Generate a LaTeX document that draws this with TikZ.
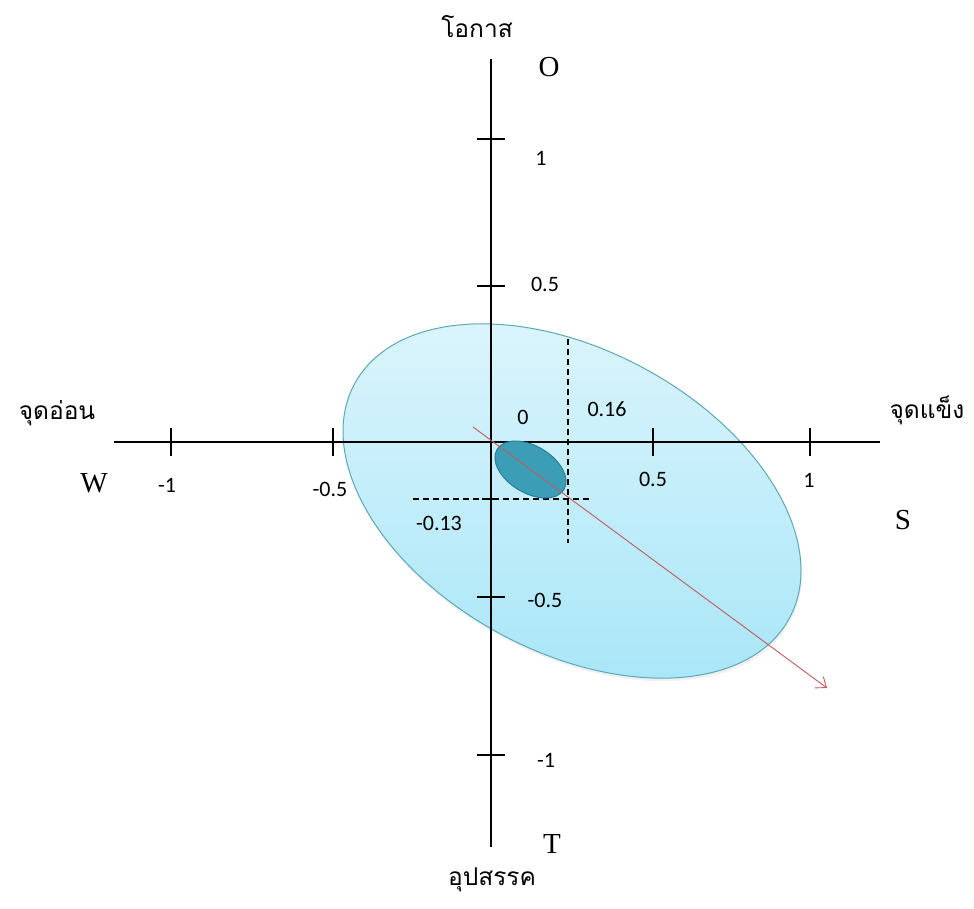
\documentclass[tikz,border=0pt]{standalone}
\usepackage{fontspec}
\setmainfont{Liberation Serif}
\newfontfamily\thaifont[Script=Thai]{Loma}
\newfontfamily\numfont{Carlito}
\usepackage{tikz}
\usetikzlibrary{positioning,arrows.meta,shapes.geometric,shadows}
\definecolor{zonelight}{HTML}{DDF5FC}
\definecolor{zonedark}{HTML}{A8E6F8}
\definecolor{zoneedge}{HTML}{5DA8B8}
\definecolor{corefill}{HTML}{3C9DB7}
\definecolor{coreedge}{HTML}{2B7E96}
\definecolor{trendred}{HTML}{C25A5E}

\begin{document}
\begin{tikzpicture}[
    x=1pt, y=-1pt,
    axis_line/.style={draw=black, line width=1.1pt},
    tick_mark/.style={draw=black, line width=1.1pt},
    guide_line/.style={draw=black, line width=1.1pt, dash pattern=on 6pt off 4pt},
    num_label/.style={font=\numfont\fontsize{22}{25}\selectfont, inner sep=0pt},
    swot_letter/.style={font=\fontsize{29}{32}\selectfont, inner sep=0pt},
    thai_label/.style={font=\thaifont\fontsize{24.5}{28}\selectfont, inner sep=0pt},
    big_zone/.style={ellipse, draw=zoneedge, line width=1pt, top color=zonelight, bottom color=zonedark,
        minimum width=494pt, minimum height=302pt, inner sep=0pt, rotate=-28.3,
        drop shadow={opacity=0.12, shadow xshift=1pt, shadow yshift=-3pt}},
    core_zone/.style={ellipse, draw=coreedge, line width=1pt, fill=corefill,
        minimum width=78pt, minimum height=47pt, inner sep=0pt, rotate=-31},
    trend_arrow/.style={draw=trendred, line width=0.9pt, -{Straight Barb[length=9pt, width=14pt]}}
]
\useasboundingbox (0,0) rectangle (974,908);

% Strategy zone
\node[big_zone] (zone) at (572,501) {};

% Axes Part
\coordinate (x_left) at (114,442);
\coordinate (x_right) at (880,442);
\coordinate (y_top) at (491,59);
\coordinate (y_bottom) at (491,847);
\draw[axis_line] (x_left) -- (x_right);
\draw[axis_line] (y_top) -- (y_bottom);

% ticks
\foreach \px/\name in {171/xm1, 333/xm05, 653/xp05, 810/xp1} {
    \coordinate (\name) at (\px,442);
    \draw[tick_mark] ([yshift=14pt]\name) -- ([yshift=-14pt]\name);
}
\foreach \py/\name in {139/yp1, 286/yp05, 597/ym05, 755/ym1} {
    \coordinate (\name) at (491,\py);
    \draw[tick_mark] ([xshift=-14pt]\name) -- ([xshift=14pt]\name);
}
\coordinate (ym013) at (491,499);
\draw[tick_mark] ([xshift=-9pt]ym013) -- ([xshift=8pt]ym013);

% Position lines
\coordinate (v_top) at (568,339);
\coordinate (v_bottom) at (568,543);
\coordinate (h_left) at (413,499);
\coordinate (h_right) at (590,499);
\draw[guide_line] (v_top) -- (v_bottom);
\draw[guide_line] (h_left) -- (h_right);

% Current position
\node[core_zone] (core) at (530.5,469.5) {};

% Direction
\coordinate (trend_start) at (473,427);
\coordinate (trend_end) at (827,688);
\draw[trend_arrow] (trend_start) -- (trend_end);

% Tick labels
\node[num_label] (lxm1) at (167,485) {-1};
\node[num_label] (lxm05) at (330,489) {-0.5};
\node[num_label] (lxp05) at (653,479) {0.5};
\node[num_label] (lxp1) at (809,480) {1};
\node[num_label] (lyp1) at (541,158) {1};
\node[num_label] (lyp05) at (545,284) {0.5};
\node[num_label] (lym05) at (545,600) {-0.5};
\node[num_label] (lym1) at (546,760) {-1};
\node[num_label] (lzero) at (523,417) {0};
\node[num_label] (lx016) at (607,409) {0.16};
\node[num_label] (ly013) at (439,523) {-0.13};

% SWOT letters
\node[swot_letter] (letter_o) at (549,67) {O};
\node[swot_letter] (letter_w) at (94,483) {W};
\node[swot_letter] (letter_s) at (903,520) {S};
\node[swot_letter] (letter_t) at (552,844) {T};

% Thai axis names
\node[thai_label] (name_o) at (477,27) {โอกาส};
\node[thai_label] (name_w) at (57,413) {จุดอ่อน};
\node[thai_label] (name_s) at (927,410) {จุดแข็ง};
\node[thai_label] (name_t) at (492,880) {อุปสรรค};

\end{tikzpicture}
\end{document}
